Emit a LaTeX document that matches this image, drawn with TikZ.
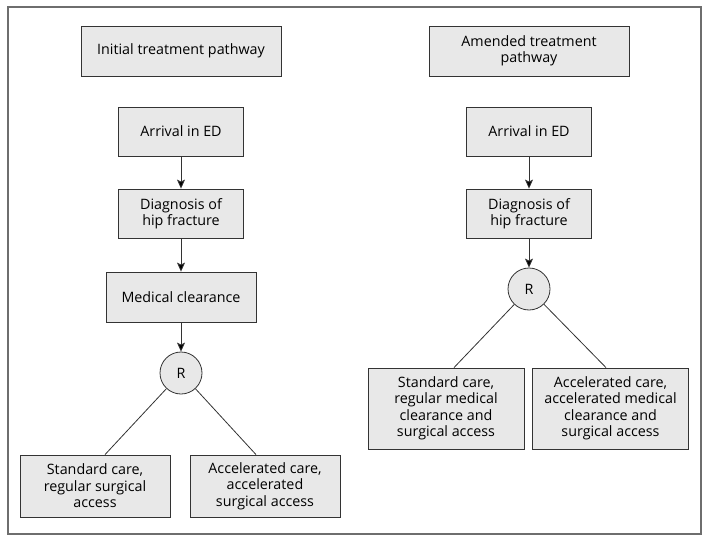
\documentclass[tikz,border=0pt]{standalone}
\usepackage{fontspec}
\setmainfont{Open Sans}
\usepackage{tikz}
\usetikzlibrary{shapes,arrows,positioning,calc,arrows.meta}

\definecolor{boxgray}{HTML}{E8E8E8}
\definecolor{edgegray}{HTML}{333333}
\definecolor{framegray}{HTML}{6E6E6E}

\begin{document}
\begin{tikzpicture}[x=1pt, y=1pt, >={Stealth[length=9pt, width=8pt, inset=2pt]}, line width=0.8pt, node distance=82pt,
	stage/.style={rectangle, draw=edgegray, fill=boxgray, align=center, inner sep=2pt,
		font=\fontsize{14.3}{16.5}\selectfont},
	rand/.style={circle, draw=edgegray, fill=boxgray, minimum size=42pt, inner sep=0pt,
		font=\fontsize{14.3}{16.5}\selectfont},
	flow/.style={->, draw=edgegray},
	split/.style={-, draw=edgegray}]
	\useasboundingbox (0,0) rectangle (709,-543);
	\draw [framegray, line width=1.2pt] (8,-7) rectangle (701,-534);

	% initial pathway
	\node [stage, minimum width=200pt, minimum height=50pt] (titleA) at (181,-51) {Initial treatment pathway};
	\node [stage, minimum width=125pt, minimum height=49pt] (arriveA) [below of=titleA, node distance=80.5pt] {Arrival in ED};
	\node [stage, minimum width=125pt, minimum height=49pt] (diagA) [below of=arriveA] {Diagnosis of\\hip fracture};
	\node [stage, minimum width=150pt, minimum height=50pt] (clearA) [below of=diagA, node distance=83.5pt] {Medical clearance};
	\node [rand] (randA) [below of=clearA, node distance=76pt] {R};
	\node [stage, minimum width=150pt, minimum height=62pt] (stdA) [below of=randA, node distance=113pt, xshift=-86pt] {Standard care,\\regular surgical\\access};
	\node [stage, minimum width=150pt, minimum height=62pt] (accA) [below of=randA, node distance=113pt, xshift=84pt] {Accelerated care,\\accelerated\\surgical access};
	\path [flow] (arriveA) edge (diagA);
	\path [flow] (diagA) edge (clearA);
	\path [flow] (clearA) edge (randA);
	\path [split] (randA) edge ($(stdA.north)+(10,0)$);
	\path [split] (randA) edge ($(accA.north)+(-9,0)$);

	% amended pathway
	\node [stage, minimum width=200pt, minimum height=50pt] (titleB) at (529,-51) {Amended treatment\\pathway};
	\node [stage, minimum width=125pt, minimum height=49pt] (arriveB) [below of=titleB, node distance=80.5pt] {Arrival in ED};
	\node [stage, minimum width=125pt, minimum height=49pt] (diagB) [below of=arriveB] {Diagnosis of\\hip fracture};
	\node [rand] (randB) [below of=diagB, node distance=75.5pt] {R};
	\node [stage, minimum width=156pt, minimum height=81pt] (stdB) [below of=randB, node distance=119.5pt, xshift=-83pt] {Standard care,\\regular medical\\clearance and\\surgical access};
	\node [stage, minimum width=156pt, minimum height=81pt] (accB) [below of=randB, node distance=119.5pt, xshift=81.5pt] {Accelerated care,\\accelerated medical\\clearance and\\surgical access};
	\path [flow] (arriveB) edge (diagB);
	\path [flow] (diagB) edge (randB);
	\path [split] (randB) edge ($(stdB.north)+(8,0)$);
	\path [split] (randB) edge ($(accB.north)+(-4.5,0)$);
\end{tikzpicture}
\end{document}
